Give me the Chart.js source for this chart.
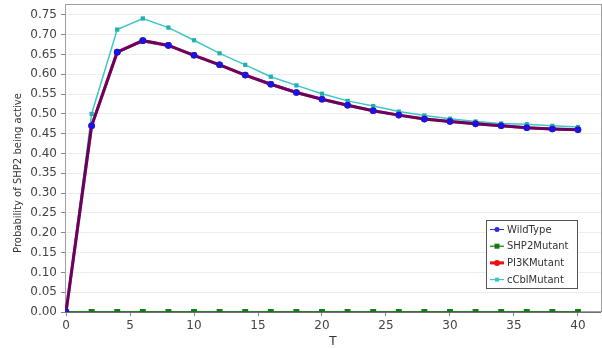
<!DOCTYPE html>
<html>
<head>
<meta charset="utf-8">
<script src="https://cdn.jsdelivr.net/npm/chart.js@4.4.0/dist/chart.umd.min.js"></script>
<style>
  html, body { margin: 0; padding: 0; background: #fff; }
</style>
</head>
<body>
<canvas id="myChart" width="602" height="349"></canvas>
<script>
// time points and probability per strain
const times = [0, 2, 4, 6, 8, 10, 12, 14, 16, 18, 20, 22, 24, 26, 28, 30, 32, 34, 36, 38, 40];
const wildType = [0, 0.470, 0.656, 0.685, 0.673, 0.648, 0.624, 0.598, 0.575, 0.554, 0.537,
  0.522, 0.508, 0.497, 0.487, 0.481, 0.475, 0.470, 0.465, 0.462, 0.460];
const shp2Mutant = [0, 0, 0, 0, 0, 0, 0, 0, 0, 0, 0, 0, 0, 0, 0, 0, 0, 0, 0, 0, 0];
const pi3kMutant = [0, 0.470, 0.656, 0.685, 0.673, 0.648, 0.624, 0.598, 0.575, 0.554, 0.537,
  0.522, 0.508, 0.497, 0.487, 0.481, 0.475, 0.470, 0.465, 0.462, 0.460];
const cCblMutant = [0, 0.500, 0.713, 0.741, 0.718, 0.686, 0.653, 0.624, 0.594, 0.572, 0.551,
  0.533, 0.520, 0.506, 0.496, 0.488, 0.481, 0.476, 0.474, 0.470, 0.467];

const xTicks = [0, 5, 10, 15, 20, 25, 30, 35, 40];
const yTicks = [0, 0.05, 0.10, 0.15, 0.20, 0.25, 0.30, 0.35, 0.40, 0.45, 0.50, 0.55, 0.60, 0.65, 0.70, 0.75];

const FONT = "'DejaVu Sans', sans-serif";

function pts(ys) {
  return times.map((t, i) => ({x: t, y: ys[i]}));
}

// frame round the plot, y axis title and boxed legend inside the plot
const decorations = {
  id: 'decorations',
  beforeDatasetsDraw(chart) {
    const {ctx, chartArea: a} = chart;
    ctx.save();
    ctx.strokeStyle = '#a0a0a0';
    ctx.lineWidth = 1;
    ctx.strokeRect(a.left + 0.5, a.top - 0.5, a.right - a.left, a.bottom - a.top);
    ctx.strokeStyle = '#707070';
    ctx.beginPath();
    ctx.moveTo(a.left, a.bottom + 0.5);
    ctx.lineTo(a.right, a.bottom + 0.5);
    ctx.stroke();
    ctx.restore();
  },
  afterDraw(chart) {
    const ctx = chart.ctx;
    ctx.save();
    ctx.translate(18, 173);
    ctx.rotate(-Math.PI / 2);
    ctx.font = `10px ${FONT}`;
    ctx.fillStyle = '#333';
    ctx.textAlign = 'center';
    ctx.textBaseline = 'middle';
    ctx.fillText('Probability of SHP2 being active', 0, 0);
    ctx.restore();

    // legend
    const bx = 486, by = 220, bw = 91, bh = 68;
    ctx.save();
    ctx.fillStyle = '#fff';
    ctx.fillRect(bx, by, bw, bh);
    ctx.strokeStyle = '#555';
    ctx.lineWidth = 1;
    ctx.strokeRect(bx + 0.5, by + 0.5, bw, bh);
    ctx.font = `10px ${FONT}`;
    ctx.textBaseline = 'middle';
    chart.data.datasets.forEach((ds, i) => {
      const y = by + 9.5 + i * 16.7;
      const lg = ds.legend;
      ctx.strokeStyle = lg.color;
      ctx.lineWidth = lg.width;
      ctx.beginPath();
      ctx.moveTo(490, y);
      ctx.lineTo(504, y);
      ctx.stroke();
      ctx.fillStyle = lg.color;
      if (lg.marker === 'circle') {
        ctx.beginPath();
        ctx.arc(497, y, lg.size, 0, Math.PI * 2);
        ctx.fill();
      } else {
        ctx.fillRect(497 - lg.size, y - lg.size, lg.size * 2, lg.size * 2);
      }
      ctx.fillStyle = '#333';
      ctx.fillText(ds.label, 507, y + 0.5);
    });
    ctx.restore();
  }
};

const config = {
  type: 'line',
  data: {
    datasets: [
      {
        label: 'WildType',
        data: pts(wildType),
        borderColor: 'rgba(30, 0, 160, 0.6)',
        borderWidth: 3,
        pointStyle: 'circle',
        pointRadius: 3.3,
        pointBackgroundColor: '#1515e8',
        pointBorderWidth: 0,
        legend: {color: '#2a2ae0', width: 1, marker: 'circle', size: 2.5}
      },
      {
        label: 'SHP2Mutant',
        data: pts(shp2Mutant),
        borderColor: '#0a6e0a',
        borderWidth: 1.5,
        pointStyle: 'rect',
        pointRadius: 4.2,
        pointBackgroundColor: '#137a13',
        pointBorderWidth: 0,
        legend: {color: '#137a13', width: 1.2, marker: 'rect', size: 2.5}
      },
      {
        label: 'PI3KMutant',
        data: pts(pi3kMutant),
        borderColor: '#e00000',
        borderWidth: 3,
        pointStyle: 'circle',
        pointRadius: 3.3,
        pointBackgroundColor: '#e00000',
        pointBorderWidth: 0,
        legend: {color: '#f01010', width: 3, marker: 'circle', size: 3}
      },
      {
        label: 'cCblMutant',
        data: pts(cCblMutant),
        borderColor: '#3cc6c6',
        borderWidth: 1.5,
        pointStyle: 'rect',
        pointRadius: 3,
        pointBackgroundColor: '#26aeae',
        pointBorderWidth: 0,
        legend: {color: '#3cc6c6', width: 1.2, marker: 'rect', size: 2}
      }
    ]
  },
  options: {
    responsive: false,
    animation: false,
    layout: {autoPadding: false, padding: {top: 5, right: 1, left: 0, bottom: 0}},
    plugins: {
      legend: {display: false},
      tooltip: {enabled: false}
    },
    elements: {line: {tension: 0}},
    scales: {
      x: {
        type: 'linear',
        min: -0.08,
        max: 41.8,
        afterBuildTicks: s => { s.ticks = xTicks.map(v => ({value: v})); },
        afterFit: s => { s.height = 37; s.paddingLeft = 0; s.paddingRight = 0; },
        grid: {drawOnChartArea: false, tickLength: 4, tickColor: '#888'},
        border: {display: false},
        ticks: {font: {family: FONT, size: 12}, color: '#444', padding: 3, maxRotation: 0},
        title: {display: true, text: 'T', font: {family: FONT, size: 12}, color: '#333', padding: 0}
      },
      y: {
        min: 0,
        max: 0.775,
        afterBuildTicks: s => { s.ticks = yTicks.map(v => ({value: v})); },
        afterFit: s => { s.width = 65; s.paddingTop = 0; s.paddingBottom = 0; },
        grid: {color: '#ececec', tickLength: 4, tickColor: '#888'},
        border: {display: false},
        ticks: {
          font: {family: FONT, size: 12},
          color: '#444',
          padding: 4,
          callback: v => v.toFixed(2)
        }
      }
    }
  },
  plugins: [decorations]
};

const myChart = new Chart(document.getElementById('myChart'), config);
</script>
</body>
</html>
